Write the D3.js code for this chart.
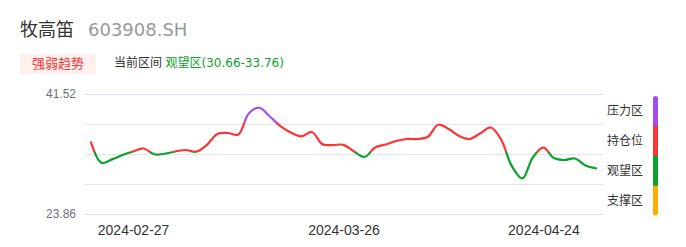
<!DOCTYPE html>
<html><head><meta charset="utf-8">
<script src="https://cdn.jsdelivr.net/npm/d3@7"></script>
<style>
body{margin:0;background:#fff;}
svg{display:block;font-family:"DejaVu Sans","Noto Sans CJK SC",sans-serif;}
</style>
</head><body>
<svg id="c" width="686" height="247"></svg>
<script>
const stockName = "牧高笛";
const stockCode = "603908.SH";
const tagLabel = "强弱趋势";
const rangeLabel = "当前区间";
const rangeValue = "观望区(30.66-33.76)";

const dates = [
  "2024-02-21","2024-02-22","2024-02-23","2024-02-26","2024-02-27","2024-02-28","2024-02-29",
  "2024-03-01","2024-03-04","2024-03-05","2024-03-06","2024-03-07","2024-03-08",
  "2024-03-11","2024-03-12","2024-03-13","2024-03-14","2024-03-15",
  "2024-03-18","2024-03-19","2024-03-20","2024-03-21","2024-03-22",
  "2024-03-25","2024-03-26","2024-03-27","2024-03-28","2024-03-29",
  "2024-04-01","2024-04-02","2024-04-03",
  "2024-04-08","2024-04-09","2024-04-10","2024-04-11","2024-04-12",
  "2024-04-15","2024-04-16","2024-04-17","2024-04-18","2024-04-19",
  "2024-04-22","2024-04-23","2024-04-24","2024-04-25","2024-04-26",
  "2024-04-29","2024-04-30","2024-05-06"
];
const prices = [
  34.41, 31.40, 31.90, 32.54, 33.06, 33.50, 32.65,
  32.73, 33.06, 33.28, 33.03, 34.01, 35.63,
  35.78, 35.56, 38.65, 39.50, 38.21,
  36.81, 35.85, 35.27, 35.93, 34.12,
  34.01, 34.04, 33.06, 32.25, 33.65,
  34.09, 34.60, 34.90,
  34.90, 35.19, 37.00, 36.37, 35.34,
  34.90, 35.74, 36.59, 34.75, 30.90,
  29.10, 32.20, 33.62, 32.10, 31.81,
  32.03, 31.00, 30.59
];
const xTickLabels = ["2024-02-27", "2024-03-26", "2024-04-24"];
const yTickLabels = [41.52, 23.86];
const zoneNames = ["压力区", "持仓位", "观望区", "支撑区"];
const zoneColors = ["#a44cf4", "#fe3333", "#0aa22a", "#ffab00"];
// line colour breaks: above 37.2 -> 压力区, 33.0..37.2 -> 持仓位, below 33.0 -> 观望区
const lineBreaks = [37.2, 33.0];

const svg = d3.select("#c");
const plot = {left: 85, right: 603, top: 94, bottom: 214};

const yMax = d3.max(yTickLabels), yMin = d3.min(yTickLabels);
const y = d3.scaleLinear().domain([yMin, yMax]).range([plot.bottom, plot.top]);
const x = d3.scalePoint().domain(dates).range([91, 596]);

// header
svg.append("text").attr("x", 20).attr("y", 35.5)
  .attr("font-size", 18).attr("fill", "#333").text(stockName);
svg.append("text").attr("x", 88).attr("y", 35.5)
  .attr("font-size", 18).attr("fill", "#999").text(stockCode);

svg.append("rect").attr("x", 20).attr("y", 54).attr("width", 76).attr("height", 20)
  .attr("fill", "#fff0ed");
svg.append("text").attr("x", 58).attr("y", 63).attr("text-anchor", "middle")
  .attr("dominant-baseline", "central").attr("font-size", 13).attr("fill", "#fe3333").text(tagLabel);
svg.append("text").attr("x", 114).attr("y", 63)
  .attr("dominant-baseline", "central").attr("font-size", 12).attr("fill", "#333").text(rangeLabel);
svg.append("text").attr("x", 165.5).attr("y", 63)
  .attr("dominant-baseline", "central").attr("font-size", 12).attr("fill", "#0aa22a").text(rangeValue);

// grid
const gridVals = d3.range(5).map(k => yMin + (yMax - yMin) * k / 4);
svg.append("g").selectAll("line").data(gridVals).join("line")
  .attr("x1", plot.left).attr("x2", plot.right)
  .attr("y1", d => Math.round(y(d)) + 0.5).attr("y2", d => Math.round(y(d)) + 0.5)
  .attr("stroke", "#e0e6f1").attr("stroke-width", 1);

// y axis labels
const yAxis = svg.append("g").attr("transform", `translate(${plot.left},0)`)
  .call(d3.axisLeft(y).tickValues(yTickLabels).tickSize(0).tickPadding(9).tickFormat(d3.format(".2f")));
yAxis.select(".domain").remove();
yAxis.selectAll("text").attr("font-size", 12).attr("fill", "#6e7079").attr("font-family", null);

// x axis labels
const xAxis = svg.append("g").attr("transform", `translate(0,${plot.bottom})`)
  .call(d3.axisBottom(x).tickValues(xTickLabels).tickSize(0).tickPadding(11));
xAxis.select(".domain").remove();
xAxis.selectAll("text").attr("font-size", 14).attr("fill", "#333").attr("font-family", null);

// gradient for zone-coloured line
const defs = svg.append("defs");
const span = y(yMin) - y(yMax);
const off = v => (y(v) - y(yMax)) / span;
const grad = defs.append("linearGradient").attr("id", "zoneGrad")
  .attr("gradientUnits", "userSpaceOnUse")
  .attr("x1", 0).attr("x2", 0).attr("y1", y(yMax)).attr("y2", y(yMin));
const stops = [
  [0, zoneColors[0]], [off(lineBreaks[0]), zoneColors[0]],
  [off(lineBreaks[0]), zoneColors[1]], [off(lineBreaks[1]), zoneColors[1]],
  [off(lineBreaks[1]), zoneColors[2]], [1, zoneColors[2]]
];
grad.selectAll("stop").data(stops).join("stop")
  .attr("offset", d => d[0]).attr("stop-color", d => d[1]);

const line = d3.line().x((d, i) => x(dates[i])).y(d => y(d)).curve(d3.curveCatmullRom.alpha(0.5));
svg.append("path").datum(prices).attr("d", line)
  .attr("fill", "none").attr("stroke", "url(#zoneGrad)").attr("stroke-width", 2.2)
  .attr("stroke-linejoin", "round").attr("stroke-linecap", "round");

// legend
const band = d3.scaleBand().domain(zoneNames).range([96, 215.5]);
defs.append("clipPath").attr("id", "barClip").append("rect")
  .attr("x", 653).attr("y", 96).attr("width", 5).attr("height", 119.5).attr("rx", 2.5);
svg.append("g").attr("clip-path", "url(#barClip)").selectAll("rect").data(zoneNames).join("rect")
  .attr("x", 653).attr("width", 5)
  .attr("y", d => band(d)).attr("height", band.bandwidth() + 0.5)
  .attr("fill", (d, i) => zoneColors[i]);
svg.append("g").selectAll("text").data(zoneNames).join("text")
  .attr("x", 607).attr("y", d => band(d) + band.bandwidth() / 2)
  .attr("dominant-baseline", "central").attr("font-size", 12).attr("fill", "#333")
  .text(d => d);
</script>
</body></html>
